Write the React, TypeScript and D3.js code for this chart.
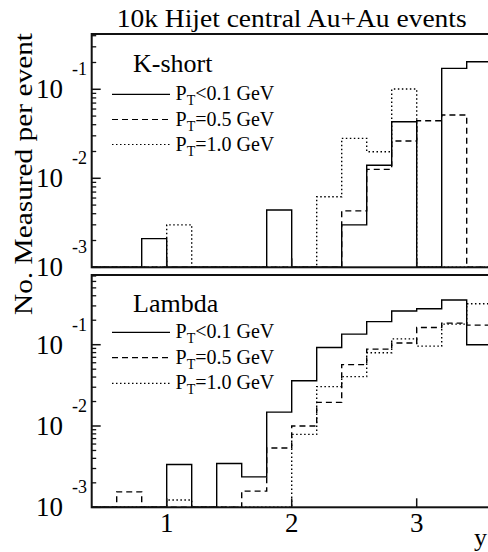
import React from 'react';
import * as d3 from 'd3';

// ---- data ----
const binLow = [0.4, 0.6, 0.8, 1.0, 1.2, 1.4, 1.6, 1.8, 2.0, 2.2, 2.4, 2.6, 2.8, 3.0, 3.2, 3.4];
const binWidth = 0.2;

const kshortPt01 = [0, 0, 0.0021, 0, 0, 0, 0, 0.0044, 0, 0, 0.0030, 0.0140, 0.0432, 0, 0.172, 0.204];
const kshortPt05 = [0, 0, 0, 0, 0, 0, 0, 0, 0, 0, 0.0043, 0.0126, 0.0262, 0.0443, 0.0514, 0];
const kshortPt10 = [0, 0, 0, 0.0030, 0, 0, 0, 0, 0, 0.0062, 0.0281, 0.0199, 0.1006, 0, 0, 0];

const lambdaPt01 = [0, 0, 0, 0.00336, 0, 0.00346, 0.00237, 0.0148, 0.0361, 0.0925, 0.135, 0.192, 0.260, 0.277, 0.355, 0.100];
const lambdaPt05 = [0, 0.00155, 0, 0, 0, 0, 0.00158, 0.00537, 0.0100, 0.0195, 0.0568, 0.0883, 0.105, 0.163, 0.184, 0.174];
const lambdaPt10 = [0, 0, 0, 0.00123, 0, 0, 0, 0, 0.00789, 0.0305, 0.0405, 0.0796, 0.118, 0.096, 0.179, 0.319];

const legendLabels = ['<0.1 GeV', '=0.5 GeV', '=1.0 GeV'];
const xTicks = [1, 2, 3];
const yDecades = [-3, -2, -1];
const titleText = '10k Hijet central Au+Au events';
const yTitle = 'No. Measured per event';
const xTitle = 'y';

const FONT = "'Liberation Serif', 'Times New Roman', Times, serif";
const dashes = [null, '6 4', '1.5 2.5'];

const xScale = d3.scaleLinear().domain([0.4, 3.6]).range([91.7, 491.7]);

type Panel = {
  name: string;
  series: number[][];
  y: d3.ScaleLogarithmic<number, number>;
  headerY: number;
  rowY: number[];
};

const panels: Panel[] = [
  {
    name: 'K-short',
    series: [kshortPt01, kshortPt05, kshortPt10],
    y: d3.scaleLog().domain([1e-3, 0.418]).range([267.3, 34]),
    headerY: 72,
    rowY: [94.3, 119.5, 144.5],
  },
  {
    name: 'Lambda',
    series: [lambdaPt01, lambdaPt05, lambdaPt10],
    y: d3.scaleLog().domain([1e-3, 0.72]).range([507.3, 275]),
    headerY: 312,
    rowY: [332.3, 357.7, 383.3],
  },
];

function histPath(vals: number[], y: d3.ScaleLogarithmic<number, number>) {
  const [lo, hi] = y.domain();
  const c = (v: number) => y(Math.min(hi, Math.max(lo, v)));
  const pts: [number, number][] = [[xScale(binLow[0]), y(lo)]];
  vals.forEach((v, i) => {
    pts.push([xScale(binLow[i]), c(v)]);
    pts.push([xScale(binLow[i] + binWidth), c(v)]);
  });
  pts.push([xScale(binLow[binLow.length - 1] + binWidth), y(lo)]);
  return d3.line()(pts) as string;
}

function PanelView({ p }: { p: Panel }) {
  const [lo, hi] = p.y.domain();
  const [y0, y1] = p.y.range();
  const x0 = xScale.range()[0];
  const x1 = xScale.range()[1];
  const minor: number[] = [];
  for (let d = -3; d <= 0; d++) {
    for (let m = 2; m <= 9; m++) {
      const v = m * Math.pow(10, d);
      if (v >= lo && v <= hi) minor.push(v);
    }
  }
  return (
    <g>
      {p.series.map((s, i) => (
        <path
          key={i}
          d={histPath(s, p.y)}
          fill="none"
          stroke="#000"
          strokeWidth={1.4}
          strokeDasharray={dashes[i] ?? undefined}
        />
      ))}
      {/* frame */}
      <rect x={x0} y={y1} width={x1 - x0} height={y0 - y1} fill="none" stroke="#111" strokeWidth={2} />
      {/* y ticks */}
      {yDecades.map((d) => (
        <line key={'M' + d} x1={x0} x2={x0 + 9} y1={p.y(Math.pow(10, d))} y2={p.y(Math.pow(10, d))} stroke="#111" strokeWidth={1.5} />
      ))}
      {minor.map((v, i) => (
        <line key={'m' + i} x1={x0} x2={x0 + 4.5} y1={p.y(v)} y2={p.y(v)} stroke="#111" strokeWidth={1.3} />
      ))}
      {/* x ticks */}
      {xTicks.map((t) => (
        <line key={'x' + t} x1={xScale(t)} x2={xScale(t)} y1={y0} y2={y0 - 9} stroke="#111" strokeWidth={1.5} />
      ))}
      {/* y tick labels */}
      {yDecades.map((d) => {
        const ty = p.y(Math.pow(10, d));
        return (
          <g key={'L' + d} fontFamily={FONT} fill="#000">
            <text x={63} y={ty + 9} fontSize={27} textAnchor="end">10</text>
            <text x={87} y={ty - 14} fontSize={18} textAnchor="end">{String(d)}</text>
          </g>
        );
      })}
      {/* legend */}
      <text x={133} y={p.headerY} fontFamily={FONT} fontSize={26} fill="#000">{p.name}</text>
      {p.rowY.map((ry, i) => (
        <g key={'lg' + i}>
          <line x1={112} x2={170} y1={ry} y2={ry} stroke="#000" strokeWidth={1.2} strokeDasharray={dashes[i] ?? undefined} />
          <text x={175.5} y={ry + 6} fontFamily={FONT} fontSize={20} fill="#000">
            P
            <tspan fontSize={14} dy={5}>T</tspan>
            <tspan dy={-5}>{legendLabels[i]}</tspan>
          </text>
        </g>
      ))}
    </g>
  );
}

export default function App() {
  const bottomY = panels[1].y.range()[0];
  return (
    <svg
      width={488}
      height={552}
      style={{ position: 'absolute', left: 0, top: 0, background: '#fff' }}
      viewBox="0 0 488 552"
    >
      <rect x={0} y={0} width={488} height={552} fill="#fff" />
      {panels.map((p) => (
        <PanelView key={p.name} p={p} />
      ))}
      <text x={291.7} y={27} fontFamily={FONT} fontSize={26} textAnchor="middle" textLength={350} lengthAdjust="spacingAndGlyphs">
        {titleText}
      </text>
      <text
        transform={`translate(32,174) rotate(-90)`}
        fontFamily={FONT}
        fontSize={26}
        textAnchor="middle"
        textLength={282}
        lengthAdjust="spacingAndGlyphs"
      >
        {yTitle}
      </text>
      {xTicks.map((t) => (
        <text key={'xt' + t} x={xScale(t)} y={bottomY + 25} fontFamily={FONT} fontSize={27} textAnchor="middle">
          {t}
        </text>
      ))}
      <text x={487} y={546} fontFamily={FONT} fontSize={26} textAnchor="end">{xTitle}</text>
    </svg>
  );
}
